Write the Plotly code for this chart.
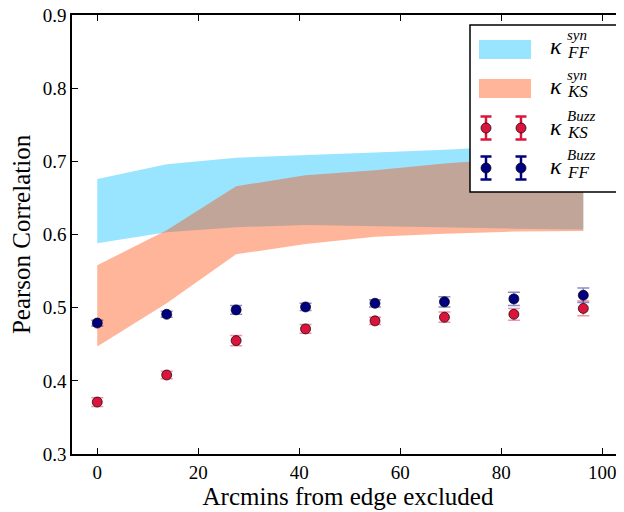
import plotly.graph_objects as go

# ---------------- data ----------------
arcmin = [0, 13.75, 27.5, 41.25, 55, 68.75, 82.5, 96.25]

ff_syn_upper = [0.676, 0.696, 0.705, 0.708, 0.712, 0.716, 0.721, 0.724]
ff_syn_lower = [0.588, 0.603, 0.610, 0.613, 0.612, 0.610, 0.608, 0.607]

ks_syn_upper = [0.558, 0.606, 0.666, 0.681, 0.688, 0.697, 0.704, 0.710]
ks_syn_lower = [0.447, 0.506, 0.573, 0.587, 0.597, 0.601, 0.604, 0.605]

ks_buzz = [0.371, 0.408, 0.455, 0.471, 0.482, 0.487, 0.491, 0.499]
ks_buzz_err = [0.006, 0.005, 0.007, 0.006, 0.005, 0.007, 0.008, 0.010]

ff_buzz = [0.479, 0.491, 0.497, 0.501, 0.506, 0.508, 0.512, 0.517]
ff_buzz_err = [0.004, 0.004, 0.006, 0.005, 0.005, 0.007, 0.009, 0.010]

y_ticks = [0.3, 0.4, 0.5, 0.6, 0.7, 0.8, 0.9]
y_tick_text = ["0.3", "0.4", "0.5", "0.6", "0.7", "0.8", "0.9"]
x_ticks = [0, 20, 40, 60, 80, 100]

legend_labels = [("syn", "FF"), ("syn", "KS"), ("Buzz", "KS"), ("Buzz", "FF")]

# ---------------- style ----------------
CYAN = "rgba(0,191,255,0.4)"
SALMON = "rgba(255,69,0,0.4)"
RED = "#DC143C"
NAVY = "#000080"
FONT = "Liberation Serif"

# page body has an 8px margin, so the figure is sized to fit the 624x512 window
OFF = 8
W, H = 616, 504
ML, MR, MT, MB = 64, 0, 7, 58

fig = go.Figure()

fig.add_trace(go.Scatter(
    x=arcmin + arcmin[::-1], y=ff_syn_upper + ff_syn_lower[::-1],
    fill="toself", fillcolor=CYAN, line=dict(width=0), mode="lines",
    hoverinfo="skip", showlegend=False))
fig.add_trace(go.Scatter(
    x=arcmin + arcmin[::-1], y=ks_syn_upper + ks_syn_lower[::-1],
    fill="toself", fillcolor=SALMON, line=dict(width=0), mode="lines",
    hoverinfo="skip", showlegend=False))

fig.add_trace(go.Scatter(
    x=arcmin, y=ks_buzz, mode="markers",
    marker=dict(color=RED, size=10, line=dict(color="black", width=0.7)),
    error_y=dict(type="data", array=ks_buzz_err, color="rgba(220,20,60,0.45)",
                 thickness=1.5, width=6),
    showlegend=False))
fig.add_trace(go.Scatter(
    x=arcmin, y=ff_buzz, mode="markers",
    marker=dict(color=NAVY, size=10, line=dict(color="black", width=0.7)),
    error_y=dict(type="data", array=ff_buzz_err, color="rgba(0,0,128,0.45)",
                 thickness=1.5, width=6),
    showlegend=False))

# ---------------- manual legend (screen-pixel helper) ----------------
PW, PH = W - ML - MR, H - MT - MB


def px(x):
    return (x - OFF - ML) / PW


def py(y):
    return 1 - (y - OFF - MT) / PH


shapes = []
annotations = []

shapes.append(dict(type="rect", xref="paper", yref="paper",
                   x0=px(470), x1=px(617), y0=py(192), y1=py(25),
                   line=dict(color="black", width=1.5), fillcolor="white", layer="above"))
shapes.append(dict(type="rect", xref="paper", yref="paper",
                   x0=px(479), x1=px(531), y0=py(59), y1=py(40),
                   line=dict(width=0), fillcolor=CYAN, layer="above"))
shapes.append(dict(type="rect", xref="paper", yref="paper",
                   x0=px(479), x1=px(531), y0=py(98), y1=py(79),
                   line=dict(width=0), fillcolor=SALMON, layer="above"))

for cy, col in [(128, RED), (168, NAVY)]:
    for cx in (486, 521):
        shapes.append(dict(type="line", xref="paper", yref="paper",
                           x0=px(cx), x1=px(cx), y0=py(cy - 11.5), y1=py(cy + 11.5),
                           line=dict(color=col, width=2.5), layer="above"))
        for dy in (-11.5, 11.5):
            shapes.append(dict(type="line", xref="paper", yref="paper",
                               x0=px(cx - 5.5), x1=px(cx + 5.5), y0=py(cy + dy), y1=py(cy + dy),
                               line=dict(color=col, width=2.5), layer="above"))
        shapes.append(dict(type="circle", xref="paper", yref="paper",
                           x0=px(cx - 5), x1=px(cx + 5), y0=py(cy + 5), y1=py(cy - 5),
                           line=dict(color="black", width=0.7), fillcolor=col, layer="above"))

row_y = [47, 87, 128, 167]
for (sup, sub), ry in zip(legend_labels, row_y):
    annotations.append(dict(xref="paper", yref="paper", x=px(548), y=py(ry - 1),
                            text="<i>κ</i>", showarrow=False, xanchor="left", yanchor="middle",
                            font=dict(family=FONT, size=24, color="black")))
    annotations.append(dict(xref="paper", yref="paper", x=px(565), y=py(ry - 12),
                            text="<i>%s</i>" % sup, showarrow=False, xanchor="left", yanchor="middle",
                            font=dict(family=FONT, size=15, color="black")))
    annotations.append(dict(xref="paper", yref="paper", x=px(565), y=py(ry + 5),
                            text="<i>%s</i>" % sub, showarrow=False, xanchor="left", yanchor="middle",
                            font=dict(family=FONT, size=17, color="black")))

fig.update_layout(
    width=W, height=H,
    margin=dict(l=ML, r=MR, t=MT, b=MB),
    paper_bgcolor="white", plot_bgcolor="white",
    font=dict(family=FONT, size=19, color="black"),
    shapes=shapes, annotations=annotations,
    xaxis=dict(range=[-5, PW / 5.05 - 5], tickvals=x_ticks,
               ticks="inside", ticklen=6, tickwidth=1, tickcolor="black",
               showline=True, linecolor="black", linewidth=1.5, mirror="ticks",
               showgrid=False, zeroline=False, automargin=False,
               ticklabeloverflow="allow",
               title=dict(text="Arcmins from edge excluded", font=dict(size=25), standoff=4)),
    yaxis=dict(range=[0.3, 0.9001], tickvals=y_ticks, ticktext=y_tick_text,
               ticks="inside", ticklen=6, tickwidth=1, tickcolor="black",
               showline=True, linecolor="black", linewidth=1.5, mirror="ticks",
               showgrid=False, zeroline=False, automargin=False,
               ticklabeloverflow="allow",
               title=dict(text="Pearson Correlation", font=dict(size=25), standoff=6)),
)

fig.write_html("out.html")
